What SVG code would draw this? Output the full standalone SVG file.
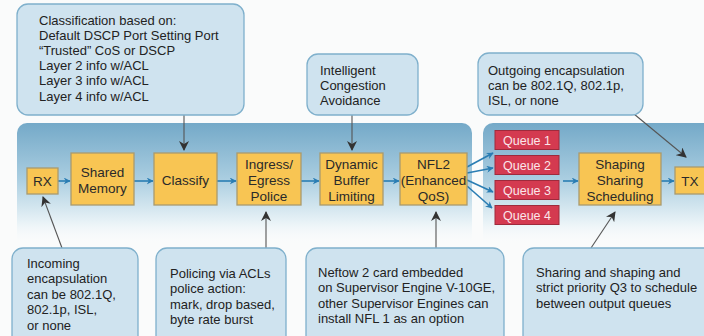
<svg xmlns="http://www.w3.org/2000/svg" width="704" height="336" viewBox="0 0 704 336">
<defs>
<linearGradient id="band" x1="0" y1="0" x2="0" y2="1">
<stop offset="0" stop-color="#74a9c8"/>
<stop offset="0.45" stop-color="#a9cde0"/>
<stop offset="0.8" stop-color="#e6f1f6"/>
<stop offset="1" stop-color="#fafcfd" stop-opacity="0"/>
</linearGradient>
<marker id="blue" viewBox="0 0 10 10" refX="9" refY="5" markerWidth="7" markerHeight="7" markerUnits="userSpaceOnUse" orient="auto">
<path d="M0,0 L10,5 L0,10 L3,5 z" fill="#2a7db3"/>
</marker>
<marker id="dark" viewBox="0 0 10 10" refX="9" refY="5" markerWidth="10" markerHeight="10" markerUnits="userSpaceOnUse" orient="auto">
<path d="M0,0 L10,5 L0,10 L3,5 z" fill="#333"/>
</marker>
</defs>
<style>
.bg{fill:#fafbfb}
.call{fill:#cfe3ef;stroke:#7fb0cc;stroke-width:1.3}
.ct{font-family:"Liberation Sans",Arial,sans-serif;font-size:13px;fill:#222}
.box{fill:#f8c553;stroke:#a99a6e;stroke-width:1.3}
.bt{font-family:"Liberation Sans",Arial,sans-serif;font-size:13.5px;fill:#2a2a2a;text-anchor:middle}
.q{fill:#d43a50;stroke:#9e2a3c;stroke-width:1}
.qt{font-family:"Liberation Sans",Arial,sans-serif;font-size:12.5px;fill:#fbe6ea;text-anchor:middle}
.fl{stroke:#2a7db3;stroke-width:1.6;fill:none;marker-end:url(#blue)}
.cl{stroke:#555;stroke-width:1.1;fill:none;marker-end:url(#dark)}
</style>
<rect class="bg" x="0" y="0" width="704" height="336"/>
<g id="bands">
<path d="M17,245 V133 a10,10 0 0 1 10,-10 H462 a10,10 0 0 1 10,10 V245 z" fill="url(#band)"/>
<path d="M483,245 V133 a10,10 0 0 1 10,-10 H714 V245 z" fill="url(#band)"/>
</g>
<g id="connectors">
<line class="cl" x1="184" y1="115" x2="184" y2="150"/>
<line class="cl" x1="352" y1="115" x2="352" y2="150"/>
<line class="cl" x1="634" y1="114" x2="686" y2="157"/>
<line class="cl" x1="62" y1="248" x2="43" y2="197"/>
<line class="cl" x1="266" y1="248" x2="266" y2="212"/>
<line class="cl" x1="436" y1="248" x2="436" y2="212"/>
<line class="cl" x1="591" y1="248" x2="615" y2="212"/>
<line class="fl" x1="58" y1="181" x2="70" y2="181"/>
<line class="fl" x1="134" y1="181" x2="153" y2="181"/>
<line class="fl" x1="217" y1="181" x2="236" y2="181"/>
<line class="fl" x1="301" y1="181" x2="319" y2="181"/>
<line class="fl" x1="383" y1="181" x2="399" y2="181"/>
<line class="fl" x1="467" y1="167" x2="493" y2="153"/>
<line class="fl" x1="467" y1="173" x2="493" y2="168"/>
<line class="fl" x1="467" y1="180" x2="493" y2="192"/>
<line class="fl" x1="467" y1="186" x2="492" y2="208"/>
<line class="fl" x1="563" y1="181" x2="578" y2="181"/>
<line class="fl" x1="661" y1="181" x2="674" y2="181"/>
</g>
<g id="callout-classification">
<rect class="call" x="17" y="4" width="227" height="111" rx="11"/>
<text class="ct" x="39" y="24.5">Classification based on:</text>
<text class="ct" x="39" y="39.7">Default DSCP Port Setting Port</text>
<text class="ct" x="39" y="54.9">“Trusted” CoS or DSCP</text>
<text class="ct" x="39" y="70.1">Layer 2 info w/ACL</text>
<text class="ct" x="39" y="85.3">Layer 3 info w/ACL</text>
<text class="ct" x="39" y="100.5">Layer 4 info w/ACL</text>
</g>
<g id="callout-congestion">
<rect class="call" x="307" y="54" width="111" height="61" rx="11"/>
<text class="ct" x="320" y="74.5">Intelligent</text>
<text class="ct" x="320" y="89.5">Congestion</text>
<text class="ct" x="320" y="104.5">Avoidance</text>
</g>
<g id="callout-outgoing">
<rect class="call" x="478" y="53" width="165" height="62" rx="11"/>
<text class="ct" x="488" y="74.5">Outgoing encapsulation</text>
<text class="ct" x="488" y="89.5">can be 802.1Q, 802.1p,</text>
<text class="ct" x="488" y="104.5">ISL, or none</text>
</g>
<g id="callout-incoming">
<rect class="call" x="12" y="248" width="126" height="100" rx="11"/>
<text class="ct" x="27" y="267.5">Incoming</text>
<text class="ct" x="27" y="283">encapsulation</text>
<text class="ct" x="27" y="298.5">can be 802.1Q,</text>
<text class="ct" x="27" y="314">802.1p, ISL,</text>
<text class="ct" x="27" y="329.5">or none</text>
</g>
<g id="callout-policing">
<rect class="call" x="156" y="248" width="130" height="100" rx="11"/>
<text class="ct" x="170" y="277.5">Policing via ACLs</text>
<text class="ct" x="170" y="293">police action:</text>
<text class="ct" x="170" y="308.5">mark, drop based,</text>
<text class="ct" x="170" y="324">byte rate burst</text>
</g>
<g id="callout-netflow">
<rect class="call" x="306" y="248" width="198" height="100" rx="11"/>
<text class="ct" x="318" y="276.5">Neftow 2 card embedded</text>
<text class="ct" x="318" y="292">on Supervisor Engine V-10GE,</text>
<text class="ct" x="318" y="307.5">other Supervisor Engines can</text>
<text class="ct" x="318" y="323">install NFL 1 as an option</text>
</g>
<g id="callout-sharing">
<rect class="call" x="523" y="248" width="200" height="100" rx="11"/>
<text class="ct" x="536" y="276.5">Sharing and shaping and</text>
<text class="ct" x="536" y="292">strict priority Q3 to schedule</text>
<text class="ct" x="536" y="307.5">between output queues</text>
</g>
<g id="rx">
<rect class="box" x="27" y="168" width="31" height="26"/>
<text class="bt" x="42.5" y="186">RX</text>
</g>
<g id="shared-memory">
<rect class="box" x="71" y="153" width="63" height="52"/>
<text class="bt" x="102.5" y="177">Shared</text>
<text class="bt" x="102.5" y="193">Memory</text>
</g>
<g id="classify">
<rect class="box" x="154" y="153" width="63" height="52"/>
<text class="bt" x="185.5" y="185">Classify</text>
</g>
<g id="police">
<rect class="box" x="237" y="153" width="64" height="52"/>
<text class="bt" x="269" y="169">Ingress/</text>
<text class="bt" x="269" y="185">Egress</text>
<text class="bt" x="269" y="201">Police</text>
</g>
<g id="dbl">
<rect class="box" x="320" y="153" width="63" height="52"/>
<text class="bt" x="351.5" y="169">Dynamic</text>
<text class="bt" x="351.5" y="185">Buffer</text>
<text class="bt" x="351.5" y="201">Limiting</text>
</g>
<g id="nfl2">
<rect class="box" x="400" y="153" width="67" height="52"/>
<text class="bt" x="433.5" y="169">NFL2</text>
<text class="bt" x="433.5" y="185">(Enhanced</text>
<text class="bt" x="433.5" y="201">QoS)</text>
</g>
<g id="queue1">
<rect class="q" x="495" y="130.5" width="64" height="19"/>
<text class="qt" x="527" y="144.5">Queue 1</text>
</g>
<g id="queue2">
<rect class="q" x="495" y="155.5" width="64" height="19"/>
<text class="qt" x="527" y="169.5">Queue 2</text>
</g>
<g id="queue3">
<rect class="q" x="495" y="180.5" width="64" height="19"/>
<text class="qt" x="527" y="194.5">Queue 3</text>
</g>
<g id="queue4">
<rect class="q" x="495" y="205.5" width="64" height="19"/>
<text class="qt" x="527" y="219.5">Queue 4</text>
</g>
<g id="shaping">
<rect class="box" x="579" y="153" width="82" height="52"/>
<text class="bt" x="620" y="169">Shaping</text>
<text class="bt" x="620" y="185">Sharing</text>
<text class="bt" x="620" y="201">Scheduling</text>
</g>
<g id="tx">
<rect class="box" x="675" y="167" width="31" height="27"/>
<text class="bt" x="690" y="185.5">TX</text>
</g>
</svg>
